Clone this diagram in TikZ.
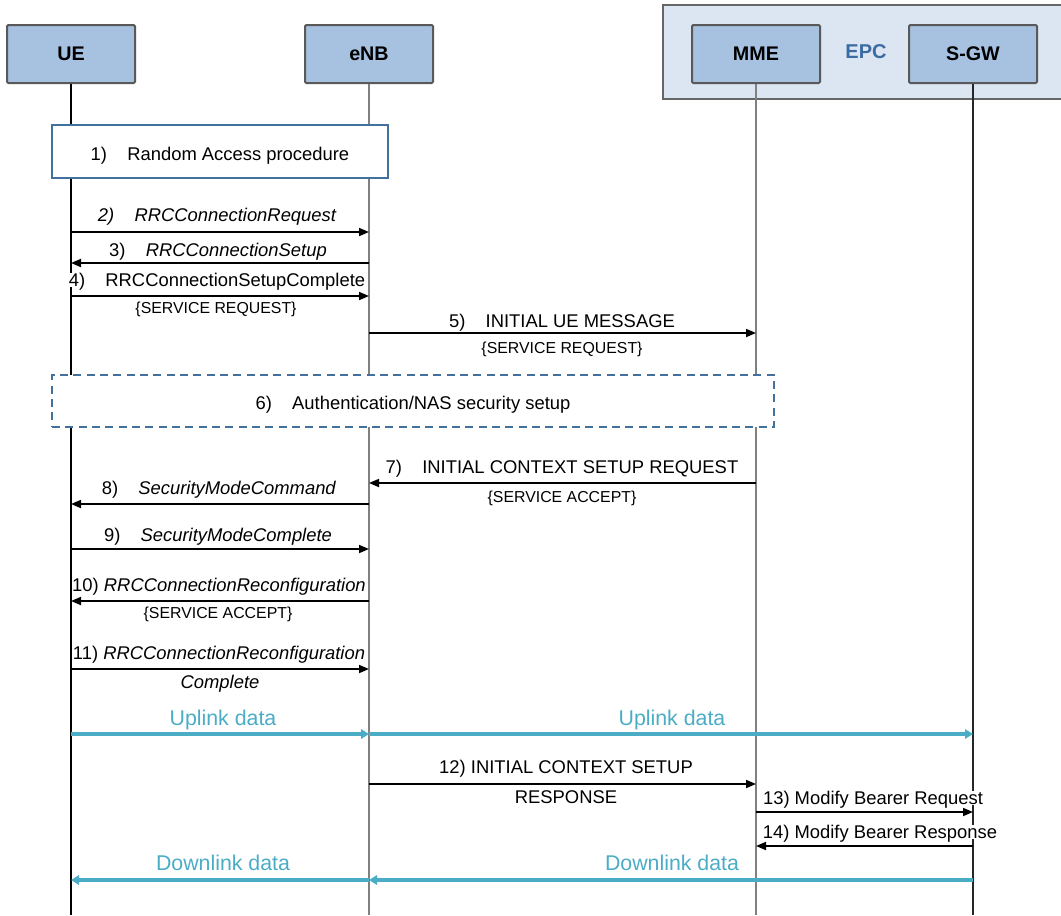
\documentclass[tikz,border=0pt]{standalone}
\usepackage{fontspec}
\setmainfont{Liberation Sans}
\usetikzlibrary{arrows.meta}
\definecolor{headfill}{HTML}{A7C2E0}
\definecolor{epcfill}{HTML}{DCE6F2}
\definecolor{frameblue}{HTML}{41719C}
\definecolor{epctext}{HTML}{3A6BA3}
\definecolor{datacyan}{HTML}{4BACC6}
\newcommand{\msgsp}{\hspace{1.1em}}

\begin{document}
\begin{tikzpicture}[x=0.75pt,y=-0.75pt,
  head/.style={draw=black!65,line width=1.5pt,rounded corners=1pt,fill=headfill,minimum width=96pt,minimum height=43.5pt,font=\fontsize{14.8}{17}\selectfont\bfseries},
  proc/.style={draw=frameblue,line width=1.8pt,fill=white,inner sep=0pt,text height=13pt,text depth=0pt,font=\fontsize{13.8}{16}\selectfont},
  lbl/.style={inner sep=0pt,text height=9.9pt,text depth=0pt,font=\fontsize{13.8}{16}\selectfont},
  sub/.style={inner sep=0pt,text height=8.5pt,text depth=0pt,font=\fontsize{11.9}{14}\selectfont},
  datalbl/.style={inner sep=0pt,text height=11.4pt,text depth=0pt,text=datacyan,font=\fontsize{16}{19}\selectfont},
  msg/.style={line width=1.3pt,-{Triangle[length=7.5pt,width=6pt]}},
  data/.style={datacyan,line width=2.4pt,-{Triangle[length=6pt,width=7pt]}}]
\useasboundingbox (0,0) rectangle (1061,915);
% EPC frame round MME and S-GW
\draw[black!60,line width=1.5pt,fill=epcfill] (663,5) rectangle (1075,99);
\node[text=epctext,font=\fontsize{15}{18}\selectfont\bfseries] (epc) at (866,52) {EPC};
\node[head] (ue) at (71,54) {UE};
\node[head] (enb) at (369,54) {eNB};
\node[head] (mme) at (756,54) {MME};
\node[head] (sgw) at (973,54) {S-GW};
% lifelines
\foreach \n/\c/\w in {ue/black/0.8pt,enb/black!50/1.5pt,mme/black!50/1.5pt,sgw/black!85/1pt}
  \draw[\c,line width=\w] (\n.south) -- (\n |- 0,915);
% procedures
\node[proc,minimum width=252pt,minimum height=39.75pt] (ra) at (220,151.5) {1)\msgsp Random Access procedure};
\node[proc,line width=2pt,dash pattern=on 6pt off 4pt,minimum width=541.5pt,minimum height=39pt] (auth) at (413,401) {6)\msgsp Authentication/NAS security setup};
% signalling
\foreach \y/\a/\b in {232/ue/enb,263/enb/ue,296/ue/enb,333/enb/mme,483/mme/enb,504/enb/ue,549/ue/enb,601/enb/ue,669/ue/enb,784/enb/mme,812/mme/sgw,846/sgw/mme}
  \draw[msg] (\a |- 0,\y) -- (\b |- 0,\y);
\node[lbl] (m2) at (217,215) {\itshape 2)\msgsp RRCConnectionRequest};
\node[lbl] (m3) at (218,250) {3)\msgsp\textit{RRCConnectionSetup}};
\node[lbl,fill=white] (m4) at (217,280) {4)\msgsp RRCConnectionSetupComplete};
\node[sub] (m4s) at (216,308) {\{SERVICE REQUEST\}};
\node[lbl] (m5) at (562,321) {5)\msgsp INITIAL UE MESSAGE};
\node[sub] (m5s) at (562,348) {\{SERVICE REQUEST\}};
\node[lbl] (m7) at (562,467) {7)\msgsp INITIAL CONTEXT SETUP REQUEST};
\node[sub] (m7s) at (562,497) {\{SERVICE ACCEPT\}};
\node[lbl] (m8) at (219,488) {8)\msgsp\textit{SecurityModeCommand}};
\node[lbl] (m9) at (218,535) {9)\msgsp\textit{SecurityModeComplete}};
\node[lbl,fill=white] (m10) at (219,585) {10) \textit{RRCConnectionReconfiguration}};
\node[sub] (m10s) at (218,613) {\{SERVICE ACCEPT\}};
\node[lbl,fill=white] (m11) at (219,653) {11) \textit{RRCConnectionReconfiguration}};
\node[lbl] (m11s) at (220,682) {\textit{Complete}};
\node[lbl] (m12) at (566,767) {12) INITIAL CONTEXT SETUP};
\node[lbl] (m12s) at (566,797) {RESPONSE};
\node[lbl,fill=white] (m13) at (873,798) {13) Modify Bearer Request};
\node[lbl,fill=white] (m14) at (880,832) {14) Modify Bearer Response};
% user plane
\foreach \y/\a/\b in {734/ue/enb,734/enb/sgw,880/sgw/enb,880/enb/ue}
  \draw[data] (\a |- 0,\y) -- (\b |- 0,\y);
\node[datalbl] (up1) at (223,718) {Uplink data};
\node[datalbl] (up2) at (672,718) {Uplink data};
\node[datalbl] (dn1) at (223,863) {Downlink data};
\node[datalbl] (dn2) at (672,863) {Downlink data};
\end{tikzpicture}
\end{document}
